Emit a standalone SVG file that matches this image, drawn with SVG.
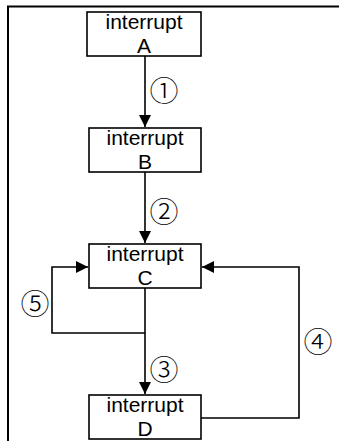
<svg xmlns="http://www.w3.org/2000/svg" width="339" height="441" viewBox="0 0 339 441">
<style>
.box{fill:#fff;stroke:#000;stroke-width:1.6}
.lbl{font-family:"Liberation Sans",Arial,sans-serif;font-size:21px;fill:#000;text-anchor:middle}
.num{font-family:"Noto Sans CJK SC","DejaVu Sans",sans-serif;font-size:29px;font-weight:300;fill:#000;text-anchor:middle;dominant-baseline:central}
.ln{fill:none;stroke:#000;stroke-width:1.6}
</style>
<defs>
<marker id="ah" viewBox="0 0 12 12" refX="12" refY="6" markerWidth="12" markerHeight="12" markerUnits="userSpaceOnUse" orient="auto">
<path d="M0,0 L12,6 L0,12 Z" fill="#000"/>
</marker>
</defs>
<g id="frame">
<path d="M8,441 V6.5 H339" fill="none" stroke="#000" stroke-width="2"/>
</g>
<g id="connectors">
<line class="ln" x1="145" y1="56" x2="145" y2="127" marker-end="url(#ah)"/>
<line class="ln" x1="145" y1="172" x2="145" y2="243" marker-end="url(#ah)"/>
<line class="ln" x1="145" y1="288" x2="145" y2="394" marker-end="url(#ah)"/>
<polyline class="ln" points="145,333 52,333 52,267 88,267" marker-end="url(#ah)"/>
<polyline class="ln" points="201,418 299,418 299,267 202,267" marker-end="url(#ah)"/>
<text class="num" x="164" y="89">①</text>
<text class="num" x="164" y="210">②</text>
<text class="num" x="164" y="368">③</text>
<text class="num" x="318" y="340">④</text>
<text class="num" x="35" y="302">⑤</text>
</g>
<g id="nodeA">
<rect class="box" x="87" y="12" width="114" height="44"/>
<text class="lbl" x="144" y="29">interrupt</text>
<text class="lbl" x="144" y="53">A</text>
</g>
<g id="nodeB">
<rect class="box" x="89" y="128" width="112" height="44"/>
<text class="lbl" x="145" y="145">interrupt</text>
<text class="lbl" x="145" y="169">B</text>
</g>
<g id="nodeC">
<rect class="box" x="89" y="244" width="112" height="44"/>
<text class="lbl" x="145" y="261">interrupt</text>
<text class="lbl" x="145" y="285">C</text>
</g>
<g id="nodeD">
<rect class="box" x="89" y="395" width="112" height="44"/>
<text class="lbl" x="145" y="412">interrupt</text>
<text class="lbl" x="145" y="436">D</text>
</g>
</svg>
